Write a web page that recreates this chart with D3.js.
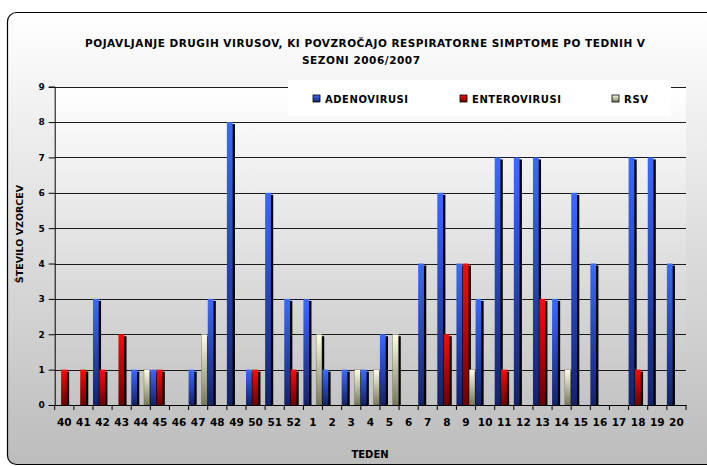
<!DOCTYPE html>
<html>
<head>
<meta charset="utf-8">
<script src="https://cdn.jsdelivr.net/npm/d3@7"></script>
<style>
  html, body { margin: 0; padding: 0; background: #fff; }
  svg { display: block; }
  text { font-family: "DejaVu Sans", Verdana, sans-serif; font-weight: bold; fill: #000; }
</style>
</head>
<body>
<svg id="chart" width="707" height="466"></svg>
<script>
// ---- data ----
const weeks = ["40","41","42","43","44","45","46","47","48","49","50","51","52",
               "1","2","3","4","5","6","7","8","9","10","11","12","13","14","15","16","17","18","19","20"];
const seriesNames = ["ADENOVIRUSI", "ENTEROVIRUSI", "RSV"];
const adenovirusi  = [0,0,3,0,1,1,0,1,3,8,1,6,3, 3,1,1,1,2,0,4,6,4,3,7,7,7,3,6,4,0,7,7,4];
const enterovirusi = [1,1,1,2,0,1,0,0,0,0,1,0,1, 0,0,0,0,0,0,0,2,4,0,1,0,3,0,0,0,0,1,0,0];
const rsv          = [0,0,0,0,1,0,0,2,0,0,0,0,0, 2,0,1,1,2,0,0,0,1,0,0,0,0,1,0,0,0,0,0,0];
const yTicks = [0,1,2,3,4,5,6,7,8,9];
const titleLines = ["POJAVLJANJE DRUGIH VIRUSOV, KI POVZROČAJO RESPIRATORNE SIMPTOME PO TEDNIH V", "SEZONI 2006/2007"];
const yTitle = "ŠTEVILO VZORCEV";
const xTitle = "TEDEN";

const seriesValues = [adenovirusi, enterovirusi, rsv];
const palette = [
  {top: "#3a6aff", bottom: "#13226a"},
  {top: "#ff0808", bottom: "#6a0000"},
  {top: "#ffffe6", bottom: "#78785a"}
];

const svg = d3.select("#chart");
const defs = svg.append("defs");

// backgrounds
const bgGrad = defs.append("linearGradient").attr("id","bgGrad").attr("x1",0).attr("y1",0).attr("x2",0).attr("y2",1);
bgGrad.append("stop").attr("offset","0%").attr("stop-color","#ffffff");
bgGrad.append("stop").attr("offset","100%").attr("stop-color","#bcbcbc");
const plotGrad = defs.append("linearGradient").attr("id","plotGrad").attr("x1",0).attr("y1",0).attr("x2",0).attr("y2",1);
plotGrad.append("stop").attr("offset","0%").attr("stop-color","#ffffff");
plotGrad.append("stop").attr("offset","100%").attr("stop-color","#c4c4c4");

palette.forEach((p,i) => {
  const g = defs.append("linearGradient").attr("id","barGrad"+i).attr("x1",0).attr("y1",0).attr("x2",0).attr("y2",1);
  g.append("stop").attr("offset","0%").attr("stop-color",p.top);
  g.append("stop").attr("offset","100%").attr("stop-color",p.bottom);
});

// chart frame
svg.append("rect").attr("x",7.5).attr("y",12.5).attr("width",730).attr("height",452)
  .attr("rx",9).attr("fill","url(#bgGrad)").attr("stroke","#000").attr("stroke-width",1.2);

// scales
const plotLeft = 54.7, plotRight = 686, plotTop = 86.7, plotBottom = 405;
const x = d3.scaleBand().domain(weeks).range([plotLeft, plotRight]).paddingInner(0).paddingOuter(0);
const xs = d3.scaleBand().domain(seriesNames).range([0, x.bandwidth()]).padding(0);
const y = d3.scaleLinear().domain([0, 9]).range([plotBottom, plotTop]);

// plot area
svg.append("rect").attr("x",plotLeft).attr("y",plotTop).attr("width",plotRight-plotLeft).attr("height",plotBottom-plotTop)
  .attr("fill","url(#plotGrad)");

defs.append("clipPath").attr("id","plotClip").append("rect")
  .attr("x",plotLeft).attr("y",plotTop-5).attr("width",plotRight-plotLeft+5).attr("height",plotBottom-plotTop+5);

// grid lines
svg.append("g").selectAll("line").data(yTicks.filter(d=>d>0)).join("line")
  .attr("x1",plotLeft).attr("x2",plotRight)
  .attr("y1",d=>Math.round(y(d))+0.5).attr("y2",d=>Math.round(y(d))+0.5)
  .attr("stroke","#1a1a1a").attr("stroke-width",1);

// bars
const barsG = svg.append("g").attr("clip-path","url(#plotClip)");
const barData = [];
weeks.forEach((w,i) => {
  seriesNames.forEach((s,k) => {
    const v = seriesValues[k][i];
    if (v > 0) barData.push({week:w, series:s, k:k, value:v});
  });
});
const bw = xs.bandwidth();
const groups = barsG.selectAll("g.bar").data(barData).join("g").attr("class","bar");
groups.append("rect")
  .attr("x", d => x(d.week) + xs(d.series) + 2.3)
  .attr("y", d => y(d.value) + 2)
  .attr("width", bw - 0.6)
  .attr("height", d => y(0) - y(d.value))
  .attr("fill", "#000");
groups.append("rect")
  .attr("x", d => x(d.week) + xs(d.series))
  .attr("y", d => y(d.value))
  .attr("width", bw - 0.6)
  .attr("height", d => y(0) - y(d.value))
  .attr("fill", d => "url(#barGrad"+d.k+")")
  .attr("stroke", d => d.k===2 ? "#6a6a50" : "none").attr("stroke-width",0.4);

// legend box (covers top of plot)
const legendG = svg.append("g");
legendG.append("rect").attr("x",288).attr("y",80).attr("width",383).attr("height",36).attr("fill","#ffffff");
const legendX = [313, 460, 612];
const legendLen = [83, 89, 24];
seriesNames.forEach((s,k) => {
  legendG.append("rect").attr("x",legendX[k]).attr("y",95).attr("width",7).attr("height",7)
    .attr("fill","url(#barGrad"+k+")").attr("stroke","#000").attr("stroke-width",0.8);
  legendG.append("text").attr("x",legendX[k]+12).attr("y",102.5).attr("font-size",10)
    .attr("textLength",legendLen[k]).attr("lengthAdjust","spacing").text(s);
});

// axes
const yAxis = d3.axisLeft(y).tickValues(yTicks).tickSize(6).tickPadding(4).tickFormat(d3.format("d"));
const yG = svg.append("g").attr("transform",`translate(${plotLeft},0)`).call(yAxis);
yG.select(".domain").attr("stroke","#000");
yG.selectAll(".tick line").attr("stroke","#000");
yG.selectAll(".tick text").attr("font-size",9).attr("font-family","DejaVu Sans, Verdana, sans-serif").attr("font-weight","bold").attr("fill","#000");

const xAxis = d3.axisBottom(x).tickSize(0).tickPadding(14);
const xG = svg.append("g").attr("transform",`translate(0,${plotBottom})`).call(xAxis);
xG.select(".domain").attr("stroke","#000");
xG.selectAll(".tick text").attr("font-size",10.5).attr("font-family","DejaVu Sans, Verdana, sans-serif").attr("font-weight","bold").attr("fill","#000");
// category boundary ticks
const boundaries = weeks.map(w => x(w)).concat([x(weeks[weeks.length-1]) + x.bandwidth()]);
xG.append("g").selectAll("line").data(boundaries).join("line")
  .attr("x1",d=>d).attr("x2",d=>d).attr("y1",0).attr("y2",5).attr("stroke","#000");

// titles
svg.append("text").attr("x",365).attr("y",47).attr("text-anchor","middle").attr("font-size",10.5)
  .attr("textLength",560).attr("lengthAdjust","spacing").text(titleLines[0]);
svg.append("text").attr("x",361).attr("y",64).attr("text-anchor","middle").attr("font-size",10.5)
  .attr("textLength",118).attr("lengthAdjust","spacing").text(titleLines[1]);
svg.append("text").attr("transform","translate(23,234) rotate(-90)").attr("text-anchor","middle").attr("font-size",9.5)
  .text(yTitle);
svg.append("text").attr("x",370).attr("y",458).attr("text-anchor","middle").attr("font-size",10)
  .text(xTitle);
</script>
</body>
</html>
